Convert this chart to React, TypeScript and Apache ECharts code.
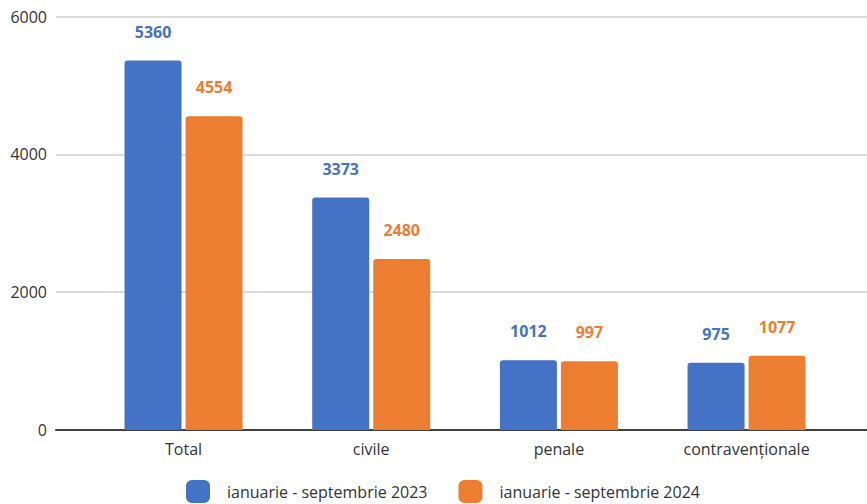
import React, { useEffect, useRef } from "react";
import * as echarts from "echarts";

const categories = ["Total", "civile", "penale", "contravenționale"];
const series2023 = [5360, 3373, 1012, 975];
const series2024 = [4554, 2480, 997, 1077];
const seriesNames = ["ianuarie - septembrie 2023", "ianuarie - septembrie 2024"];
const yTicks = [0, 2000, 4000, 6000];

const FONT = "'Open Sans', 'Noto Sans', sans-serif";

export default function App() {
  const ref = useRef<HTMLDivElement>(null);
  useEffect(() => {
    if (!ref.current) return;
    const chart = echarts.init(ref.current, undefined, { renderer: "svg" });
    const yMin = yTicks[0];
    const yMax = yTicks[yTicks.length - 1];
    const interval = yTicks[1] - yTicks[0];
    const labelStyle = (color: string) => ({
      show: true,
      position: "top" as const,
      distance: 21,
      color,
      fontWeight: "bold" as const,
      fontSize: 16,
      fontFamily: FONT,
    });
    chart.setOption({
      animation: false,
      textStyle: { fontFamily: FONT },
      grid: [
        { left: 56, right: 0, top: 16.5, bottom: 74, containLabel: false },
        { left: 89.7, width: 750.7, top: 16.5, bottom: 74, containLabel: false },
      ],
      xAxis: [
        {
          gridIndex: 0,
          type: "value",
          min: 0,
          max: 1,
          axisLabel: { show: false },
          axisTick: { show: false },
          splitLine: { show: false },
          axisLine: { show: true, onZero: false, lineStyle: { color: "#404040", width: 2 } },
        },
        {
          gridIndex: 1,
          type: "category",
          data: categories,
          axisLine: { show: false },
          axisTick: { show: false },
          axisLabel: { color: "#333333", fontSize: 16, margin: 11, fontFamily: FONT },
        },
      ],
      yAxis: [
        {
          gridIndex: 0,
          type: "value",
          min: yMin,
          max: yMax,
          interval,
          axisLine: { show: false },
          axisTick: { show: false },
          axisLabel: {
            color: "#333333",
            fontSize: 16,
            margin: 9,
            fontFamily: FONT,
            formatter: (v: number) => String(v),
          },
          splitLine: { show: true, lineStyle: { color: "#d0d0d0", width: 1.5 } },
        },
        {
          gridIndex: 1,
          type: "value",
          min: yMin,
          max: yMax,
          interval,
          show: false,
          splitLine: { show: false },
        },
      ],
      legend: {
        bottom: 1,
        left: 186,
        padding: 0,
        itemWidth: 24,
        itemHeight: 23,
        itemGap: 31,
        icon: "roundRect",
        textStyle: { color: "#333333", fontSize: 16, fontFamily: FONT, padding: [0, 0, 0, 12] },
        data: seriesNames,
      },
      series: [
        {
          name: seriesNames[0],
          type: "bar",
          xAxisIndex: 1,
          yAxisIndex: 1,
          data: series2023,
          barWidth: 57,
          barGap: "7%",
          itemStyle: { color: "#4472C4", borderRadius: [3, 3, 0, 0] },
          label: labelStyle("#4472C4"),
        },
        {
          name: seriesNames[1],
          type: "bar",
          xAxisIndex: 1,
          yAxisIndex: 1,
          data: series2024,
          barWidth: 57,
          barGap: "7%",
          itemStyle: { color: "#ED7D31", borderRadius: [3, 3, 0, 0] },
          label: labelStyle("#ED7D31"),
        },
      ],
    });
    return () => chart.dispose();
  }, []);
  return (
    <div
      ref={ref}
      style={{ position: "fixed", left: 0, top: 0, width: 867, height: 504, background: "#ffffff" }}
    />
  );
}
